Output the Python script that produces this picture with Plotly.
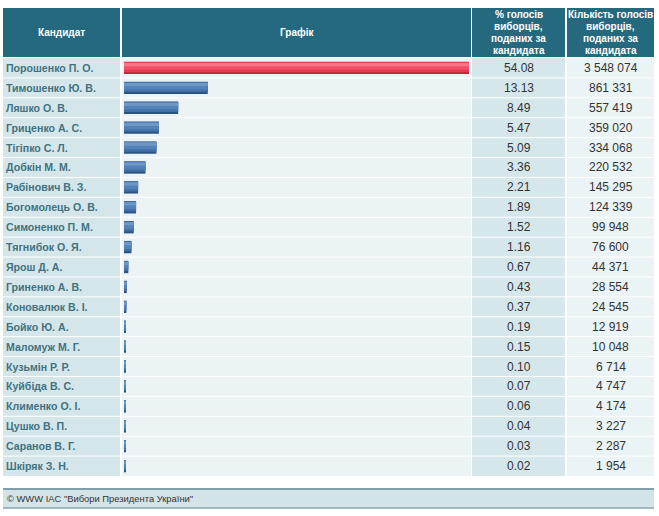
import plotly.graph_objects as go

W, H = 659, 516

candidates = ["Порошенко П. О.", "Тимошенко Ю. В.", "Ляшко О. В.", "Гриценко А. С.",
              "Тігіпко С. Л.", "Добкін М. М.", "Рабінович В. З.", "Богомолець О. В.",
              "Симоненко П. М.", "Тягнибок О. Я.", "Ярош Д. А.", "Гриненко А. В.",
              "Коновалюк В. І.", "Бойко Ю. А.", "Маломуж М. Г.", "Кузьмін Р. Р.",
              "Куйбіда В. С.", "Клименко О. І.", "Цушко В. П.", "Саранов В. Г.",
              "Шкіряк З. Н."]
percent = [54.08, 13.13, 8.49, 5.47, 5.09, 3.36, 2.21, 1.89, 1.52, 1.16, 0.67,
           0.43, 0.37, 0.19, 0.15, 0.10, 0.07, 0.06, 0.04, 0.03, 0.02]
votes = ["3 548 074", "861 331", "557 419", "359 020", "334 068", "220 532",
         "145 295", "124 339", "99 948", "76 600", "44 371", "28 554", "24 545",
         "12 919", "10 048", "6 714", "4 747", "4 174", "3 227", "2 287", "1 954"]
headers = [["Кандидат"], ["Графік"],
           ["% голосів", "виборців,", "поданих за", "кандидата"],
           ["Кількість голосів", "виборців,", "поданих за", "кандидата"]]
footer = "© WWW IAC \"Вибори Президента України\""

n = len(candidates)
# pixel geometry
TOP_HDR, BOT_HDR = 8, 57
ROW_TOP, ROW_BOT = 58, 476
cols = [(3, 120), (122, 471), (472, 565), (567, 654)]
BAR_X0, BAR_X1 = 124, 469

def px(x):
    return x / W

def py(y):
    return 1 - y / H

fig = go.Figure()

# bar with pseudo-gradient (layered strips, lighter at top, darker at bottom)
minvis = [max(p, 0.25) for p in percent]
layers = [
    # (width, offset, red colour, blue colour)
    (0.62, -0.31, "#b8283b", "#2c5282"),
    (0.50, -0.29, "#e23c52", "#416fa6"),
    (0.36, -0.27, "#f2506a", "#5382b8"),
    (0.16, -0.25, "#f77487", "#6e97c6"),
]
for w, off, rc, bc in layers:
    cols_ = [rc] + [bc] * (n - 1)
    fig.add_trace(go.Bar(y=candidates, x=minvis, orientation="h", width=w, offset=off,
                         marker=dict(color=cols_, line=dict(width=0)), hoverinfo="skip"))

shapes = []
# header cells
for (x0, x1) in cols:
    shapes.append(dict(type="rect", xref="paper", yref="paper", x0=px(x0), x1=px(x1),
                       y0=py(BOT_HDR), y1=py(TOP_HDR), fillcolor="#24697d",
                       line=dict(width=0), layer="below"))
# body backgrounds
body_colors = ["#d5e6eb", "#ebf3f5", "#d6e7eb", "#eaf3f5"]
for (x0, x1), c in zip(cols, body_colors):
    shapes.append(dict(type="rect", xref="paper", yref="paper", x0=px(x0), x1=px(x1),
                       y0=py(ROW_BOT), y1=py(ROW_TOP), fillcolor=c,
                       line=dict(width=0), layer="below"))
# row separators
rh = (ROW_BOT - ROW_TOP) / n
for i in range(1, n):
    y = ROW_TOP + i * rh
    shapes.append(dict(type="line", xref="paper", yref="paper", x0=px(3), x1=px(654),
                       y0=py(y), y1=py(y), line=dict(color="#ffffff", width=1), layer="below"))
# footer
shapes.append(dict(type="rect", xref="paper", yref="paper", x0=px(3), x1=px(654),
                   y0=py(508), y1=py(489), fillcolor="#d3e4e9",
                   line=dict(width=0), layer="below"))
shapes.append(dict(type="line", xref="paper", yref="paper", x0=px(3), x1=px(654),
                   y0=py(489), y1=py(489), line=dict(color="#7f9ea8", width=2)))
shapes.append(dict(type="line", xref="paper", yref="paper", x0=px(3), x1=px(654),
                   y0=py(508), y1=py(508), line=dict(color="#8aa5ad", width=1.5)))

ann = []
hfont = dict(family="Liberation Sans, Arial", size=10, color="#ffffff")
for (x0, x1), lines in zip(cols, headers):
    m = len(lines)
    for j, t in enumerate(lines):
        yc = (TOP_HDR + BOT_HDR) / 2 + (j - (m - 1) / 2) * 12.3
        ann.append(dict(xref="paper", yref="paper", x=px((x0 + x1) / 2), y=py(yc),
                        text=f"<b>{t}</b>", showarrow=False, xanchor="center",
                        yanchor="middle", font=hfont, align="center"))
for i in range(n):
    ann.append(dict(xref="paper", yref="y", x=px(4), y=candidates[i],
                    text=f"<b>{candidates[i]}</b>", showarrow=False, xanchor="left",
                    yanchor="middle",
                    font=dict(family="Liberation Sans, Arial", size=10.6, color="#41727f")))
    ann.append(dict(xref="paper", yref="y", x=px((cols[2][0] + cols[2][1]) / 2),
                    y=candidates[i], text=f"{percent[i]:.2f}", showarrow=False,
                    xanchor="center", yanchor="middle",
                    font=dict(family="Liberation Sans, Arial", size=12, color="#333333")))
    ann.append(dict(xref="paper", yref="y", x=px((cols[3][0] + cols[3][1]) / 2),
                    y=candidates[i], text=votes[i], showarrow=False,
                    xanchor="center", yanchor="middle",
                    font=dict(family="Liberation Sans, Arial", size=12, color="#333333")))
ann.append(dict(xref="paper", yref="paper", x=px(5), y=py(498.5), text=footer,
                showarrow=False, xanchor="left", yanchor="middle",
                font=dict(family="Liberation Sans, Arial", size=9.4, color="#333333")))

fig.update_layout(
    width=W, height=H, margin=dict(l=0, r=0, t=0, b=0),
    paper_bgcolor="#ffffff", plot_bgcolor="rgba(0,0,0,0)",
    barmode="overlay", showlegend=False,
    xaxis=dict(domain=[px(BAR_X0), px(BAR_X1)], range=[0, percent[0]], visible=False,
               fixedrange=True),
    yaxis=dict(domain=[py(ROW_BOT), py(ROW_TOP)], type="category",
               categoryorder="array", categoryarray=candidates,
               range=[n - 0.5, -0.5], visible=False, fixedrange=True),
    shapes=shapes, annotations=ann,
)
fig.write_html("out.html", config={"displayModeBar": False},
               post_script="document.body.style.margin='0';document.body.style.overflow='hidden';")
